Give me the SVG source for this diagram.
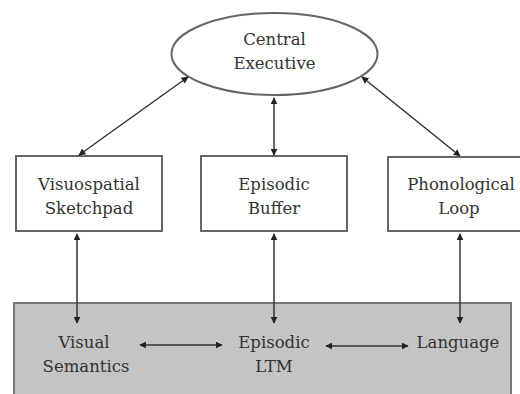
<svg xmlns="http://www.w3.org/2000/svg" width="520" height="394" viewBox="0 0 520 394">
<style>
.box{fill:#fff;stroke:#666;stroke-width:2}
.t{font-family:'DejaVu Serif','Liberation Serif',serif;font-size:16.5px;fill:#333;text-anchor:middle}
.c{stroke:#333;stroke-width:1.5;fill:none;marker-start:url(#a);marker-end:url(#a)}
</style>
<defs>
<marker id="a" viewBox="0 0 10 10" refX="9" refY="5" markerWidth="7" markerHeight="7" markerUnits="userSpaceOnUse" orient="auto-start-reverse">
<path d="M0,0 L10,5 L0,10 z" fill="#222"/>
</marker>
</defs>
<rect width="520" height="394" fill="#fff"/>
<g id="ltm-store">
<rect x="14" y="303" width="497" height="100" fill="#c4c4c4" stroke="#777" stroke-width="2"/>
</g>
<g id="central-executive">
<ellipse cx="274.5" cy="54" rx="103" ry="41" class="box"/>
<text class="t" x="274.5" y="45">Central</text>
<text class="t" x="274.5" y="69">Executive</text>
</g>
<g id="visuospatial-sketchpad">
<rect x="16" y="156" width="146" height="75" class="box"/>
<text class="t" x="89" y="190">Visuospatial</text>
<text class="t" x="89" y="214">Sketchpad</text>
</g>
<g id="episodic-buffer">
<rect x="201" y="156" width="146" height="75" class="box"/>
<text class="t" x="274" y="190">Episodic</text>
<text class="t" x="274" y="214">Buffer</text>
</g>
<g id="phonological-loop">
<rect x="388" y="157" width="140" height="74" class="box"/>
<text class="t" x="461" y="190">Phonological</text>
<text class="t" x="459" y="214">Loop</text>
</g>
<g id="visual-semantics">
<text class="t" x="84" y="348">Visual</text>
<text class="t" x="86" y="372">Semantics</text>
</g>
<g id="episodic-ltm">
<text class="t" x="274" y="348">Episodic</text>
<text class="t" x="274" y="372">LTM</text>
</g>
<g id="language">
<text class="t" x="458" y="348">Language</text>
</g>
<g id="connectors">
<line class="c" x1="188" y1="77" x2="79" y2="155"/>
<line class="c" x1="274" y1="98" x2="274" y2="155"/>
<line class="c" x1="362" y1="77" x2="460" y2="156"/>
<line class="c" x1="77" y1="234" x2="77" y2="323"/>
<line class="c" x1="274" y1="234" x2="274" y2="323"/>
<line class="c" x1="460" y1="234" x2="460" y2="323"/>
<line class="c" x1="140" y1="345" x2="222" y2="345"/>
<line class="c" x1="326" y1="346" x2="408" y2="346"/>
</g>
</svg>
